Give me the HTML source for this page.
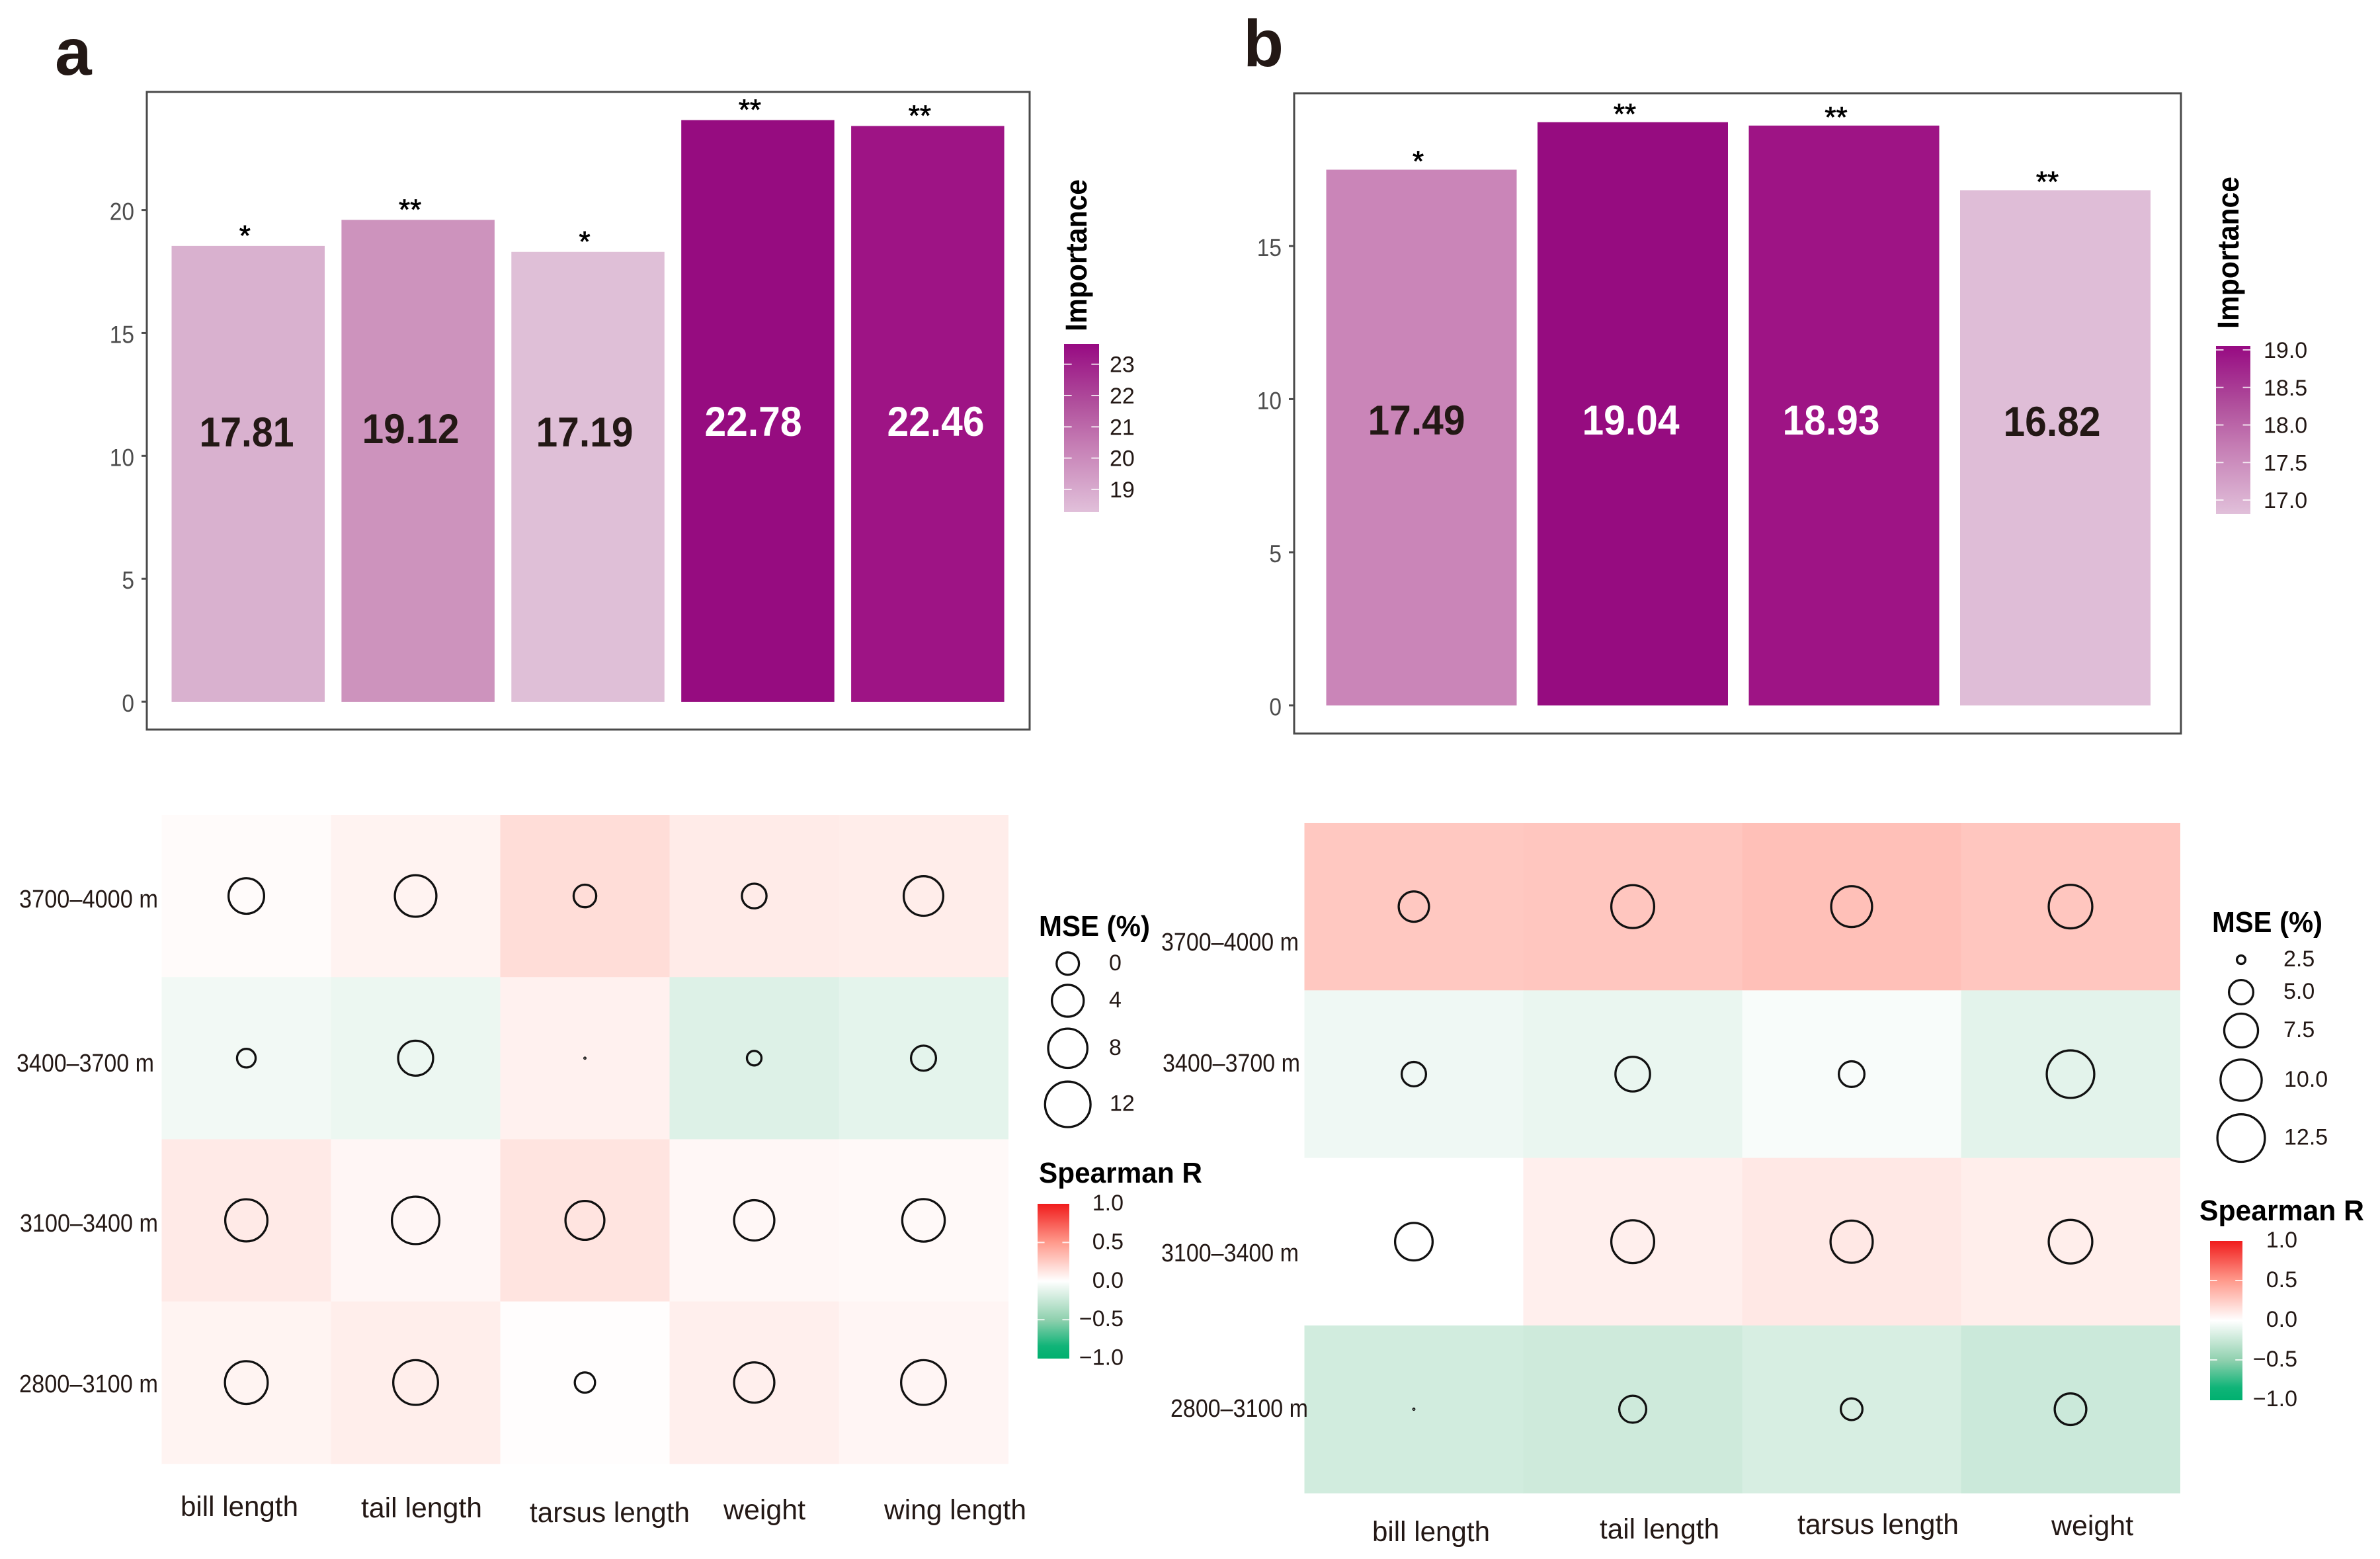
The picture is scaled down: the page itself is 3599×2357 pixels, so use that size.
<!DOCTYPE html>
<html lang="en">
<head>
<meta charset="utf-8">
<title>Importance and Spearman heatmaps by elevation</title>
<style>
html,body{margin:0;padding:0;background:#fff}
svg{display:block}
text{font-family:"Liberation Sans",Arial,sans-serif}
.ink{fill:#231815}
.b{font-weight:bold;fill:#000}
.val{font-weight:bold;font-size:63px;text-anchor:middle}
.row{font-size:38px}
.col{font-size:43px}
.leg{font-size:34px}
</style>
</head>
<body>
<svg id="chart" xmlns="http://www.w3.org/2000/svg" width="3599" height="2357" viewBox="0 0 3599 2357">
<defs>
<linearGradient id="impGrad" x1="0" y1="0" x2="0" y2="1">
<stop offset="0" stop-color="#970a82"/><stop offset=".35" stop-color="#b04f9c"/><stop offset=".6" stop-color="#c57db4"/><stop offset="1" stop-color="#e1c0da"/>
</linearGradient>
<linearGradient id="corGrad" x1="0" y1="0" x2="0" y2="1">
<stop offset="0" stop-color="#f01c1c"/><stop offset=".25" stop-color="#ff9a8c"/><stop offset=".5" stop-color="#ffffff"/><stop offset=".75" stop-color="#8fd0ae"/><stop offset=".92" stop-color="#10b478"/><stop offset="1" stop-color="#00b06f"/>
</linearGradient>
</defs>
<rect width="3599" height="2357" fill="#fff"/>
<g id="marks"></g>

<text class="ink" x="83" y="113" font-size="100" font-weight="bold">a</text>
<text class="ink" x="1880" y="100" font-size="100" font-weight="bold">b</text>

<g>
<text class="val ink" x="373" y="675" textLength="143" lengthAdjust="spacingAndGlyphs">17.81</text>
<text class="val ink" x="621" y="670" textLength="147" lengthAdjust="spacingAndGlyphs">19.12</text>
<text class="val ink" x="884" y="675" textLength="147" lengthAdjust="spacingAndGlyphs">17.19</text>
<text class="val" fill="#fff" x="1139" y="659" textLength="147" lengthAdjust="spacingAndGlyphs">22.78</text>
<text class="val" fill="#fff" x="1415" y="659" textLength="147" lengthAdjust="spacingAndGlyphs">22.46</text>
</g>
<g>
<text class="val ink" x="2142" y="657" textLength="147" lengthAdjust="spacingAndGlyphs">17.49</text>
<text class="val" fill="#fff" x="2466" y="657" textLength="147" lengthAdjust="spacingAndGlyphs">19.04</text>
<text class="val" fill="#fff" x="2769" y="657" textLength="147" lengthAdjust="spacingAndGlyphs">18.93</text>
<text class="val ink" x="3103" y="659" textLength="147" lengthAdjust="spacingAndGlyphs">16.82</text>
</g>

<text class="b" font-size="45" textLength="230" lengthAdjust="spacingAndGlyphs" transform="translate(1643,501) rotate(-90)">Importance</text>
<text class="b" font-size="45" textLength="230" lengthAdjust="spacingAndGlyphs" transform="translate(3385,497) rotate(-90)">Importance</text>

<g>
<text class="row ink" x="29" y="1372" textLength="210" lengthAdjust="spacingAndGlyphs">3700–4000 m</text>
<text class="row ink" x="25" y="1620" textLength="208" lengthAdjust="spacingAndGlyphs">3400–3700 m</text>
<text class="row ink" x="30" y="1862" textLength="209" lengthAdjust="spacingAndGlyphs">3100–3400 m</text>
<text class="row ink" x="29" y="2105" textLength="210" lengthAdjust="spacingAndGlyphs">2800–3100 m</text>
</g>
<g>
<text class="col ink" x="273" y="2292" textLength="178" lengthAdjust="spacingAndGlyphs">bill length</text>
<text class="col ink" x="546" y="2294" textLength="183" lengthAdjust="spacingAndGlyphs">tail length</text>
<text class="col ink" x="801" y="2301" textLength="242" lengthAdjust="spacingAndGlyphs">tarsus length</text>
<text class="col ink" x="1094" y="2297" textLength="124" lengthAdjust="spacingAndGlyphs">weight</text>
<text class="col ink" x="1337" y="2297" textLength="215" lengthAdjust="spacingAndGlyphs">wing length</text>
</g>
<g>
<text class="row ink" x="1756" y="1437" textLength="208" lengthAdjust="spacingAndGlyphs">3700–4000 m</text>
<text class="row ink" x="1758" y="1620" textLength="208" lengthAdjust="spacingAndGlyphs">3400–3700 m</text>
<text class="row ink" x="1756" y="1907" textLength="208" lengthAdjust="spacingAndGlyphs">3100–3400 m</text>
<text class="row ink" x="1770" y="2142" textLength="208" lengthAdjust="spacingAndGlyphs">2800–3100 m</text>
</g>
<g>
<text class="col ink" x="2075" y="2330" textLength="178" lengthAdjust="spacingAndGlyphs">bill length</text>
<text class="col ink" x="2419" y="2326" textLength="181" lengthAdjust="spacingAndGlyphs">tail length</text>
<text class="col ink" x="2718" y="2319" textLength="244" lengthAdjust="spacingAndGlyphs">tarsus length</text>
<text class="col ink" x="3102" y="2321" textLength="124" lengthAdjust="spacingAndGlyphs">weight</text>
</g>

<text class="b" x="1571" y="1415" font-size="44" textLength="168" lengthAdjust="spacingAndGlyphs">MSE (%)</text>
<text class="b" x="1571" y="1788" font-size="44" textLength="247" lengthAdjust="spacingAndGlyphs">Spearman R</text>
<text class="b" x="3345" y="1409" font-size="44" textLength="167" lengthAdjust="spacingAndGlyphs">MSE (%)</text>
<text class="b" x="3326" y="1845" font-size="44" textLength="249" lengthAdjust="spacingAndGlyphs">Spearman R</text>
</svg>

<script>
// Panel a bars
const barHeightsA = [18.54, 19.6, 18.3, 23.66, 23.42];
const importanceA = [17.81, 19.12, 17.19, 22.78, 22.46];
const starsA = ['*', '**', '*', '**', '**'];
const yTicksA = [0, 5, 10, 15, 20];
const impTicksA = [23, 22, 21, 20, 19];

// Panel b bars
const barHeightsB = [17.49, 19.04, 18.93, 16.82];
const importanceB = [17.49, 19.04, 18.93, 16.82];
const starsB = ['*', '**', '**', '**'];
const yTicksB = [0, 5, 10, 15];
const impTicksB = [19.0, 18.5, 18.0, 17.5, 17.0];

// Colour ramps: importance breakpoints and their colours
const impDomainA = [17.19, 19.12, 22.46, 22.78];
const impDomainB = [16.82, 17.49, 18.93, 19.04];
const impColorsA = [[223,191,215],[205,147,189],[158,20,133],[150,12,128]];
const impColorsB = [[223,189,215],[202,133,184],[158,20,133],[150,12,128]];

// Panel a heatmap (rows top to bottom: 3700-4000, 3400-3700, 3100-3400, 2800-3100)
const spearmanA1 = [0.02, 0.06, 0.17, 0.1, 0.09];
const spearmanA2 = [-0.06, -0.085, 0.07, -0.15, -0.12];
const spearmanA3 = [0.105, 0.045, 0.135, 0.04, 0.03];
const spearmanA4 = [0.055, 0.085, 0.008, 0.08, 0.05];
const mseA1 = [5.9, 9.4, 0.1, 0.85, 8.2];
const mseA2 = [-1.2, 5.6, -4.25, -2.3, 1.0];
const mseA3 = [9.8, 13.4, 7.8, 8.6, 10.0];
const mseA4 = [10.2, 11.5, -0.7, 8.6, 11.5];

// Panel b heatmap
const spearmanB1 = [0.27, 0.28, 0.31, 0.28];
const spearmanB2 = [-0.07, -0.095, -0.03, -0.125];
const spearmanB3 = [0, 0.08, 0.115, 0.085];
const spearmanB4 = [-0.205, -0.22, -0.18, -0.23];
const mseB1 = [6.49, 10.63, 9.89, 10.9];
const mseB2 = [5.0, 7.76, 5.3, 12.5];
const mseB3 = [8.72, 10.63, 10.38, 10.9];
const mseB4 = [2.04, 5.63, 4.43, 6.86];

// Legends
const corTicks = [1.0, 0.5, 0.0, -0.5, -1.0];
const corDomain = [-1, -0.5, 0, 0.5, 1];
const corColors = [[0,176,111],[143,208,174],[255,255,255],[255,154,140],[240,28,28]];

const NS = 'http://www.w3.org/2000/svg';
const root = document.getElementById('marks');

function mk(parent, tag, attrs) {
  const el = document.createElementNS(NS, tag);
  for (const k in attrs) el.setAttribute(k, attrs[k]);
  parent.appendChild(el);
  return el;
}
function lerpColor(v, domain, colors) {
  let i = 0;
  if (v <= domain[0]) i = 0;
  else if (v >= domain[domain.length - 1]) i = domain.length - 2;
  else while (v > domain[i + 1]) i++;
  const t = Math.max(0, Math.min(1, (v - domain[i]) / (domain[i + 1] - domain[i])));
  const c = colors[i].map((a, j) => Math.round(a + (colors[i + 1][j] - a) * t));
  return 'rgb(' + c.join(',') + ')';
}
function fmt1(v) {
  return v.toFixed(1).replace('-', '\u2212');
}

// ---- axis functions ----
const yA = v => 1061 - v * 37.17;
const yB = v => 1066.5 - v * 46.31;
const bandA = i => 259.5 + i * 256.9;
const bandB = i => 2005.5 + i * 319.5;
const impYA = v => 550.7 + (23 - v) * 47.3;
const impYB = v => 529 + (19 - v) * 113.5;
const corYA = v => 1936.8 - v * 116.75;
const corYB = v => 1996 - v * 120;
const cellXA = i => 244.5 + i * 256;
const cellYA = i => 1232 + i * 245.2;
const cellXB = i => 1972.5 + i * 331;
const cellYB = i => 1244 + i * 253.3;
const sizeA = v => Math.sqrt(Math.max(0, v + 4.3)) * 17.83;
const sizeB = v => Math.sqrt(Math.max(0, v - 2.02)) * 23.17;

function drawBarPanel(g, frame, heights, importance, stars, ticks, y, band, barW, domain, colors, starDy) {
  const box = mk(g, 'rect', {x: frame[0], y: frame[1], width: frame[2] - frame[0], height: frame[3] - frame[1], fill: 'none', stroke: '#4a4a4a', 'stroke-width': 3});
  
  
  ticks.forEach(t => {
    const tick = mk(g, 'line', {x1: frame[0] - 8, x2: frame[0], y1: y(t), y2: y(t), stroke: '#4d4d4d', 'stroke-width': 3});
    
    
    const lab = mk(g, 'text', {x: frame[0] - 19, y: y(t) + 15, 'text-anchor': 'end', 'font-size': 37, fill: '#4d4d4d', textLength: String(t).length * 18.6, lengthAdjust: 'spacingAndGlyphs'});
    lab.textContent = t;
    
    
  });
  heights.forEach((h, i) => {
    const bar = mk(g, 'rect', {x: band(i), y: y(h), width: barW, height: y(0) - y(h), fill: lerpColor(importance[i], domain, colors)});
    
    
    const star = mk(g, 'text', {x: band(i) + barW / 2 + (stars[i].length > 1 ? -12 : -5), y: y(h) + starDy, 'text-anchor': 'middle', 'font-size': 44, fill: '#000', stroke: '#000', 'stroke-width': 0.8});
    star.textContent = stars[i];
    
    
  });
}

function drawHeatmap(g, rowsCor, rowsMse, cellX, cellY, size) {
  rowsCor.forEach((row, r) => {
    row.forEach((v, c) => {
      const cell = mk(g, 'rect', {x: cellX(c), y: cellY(r), width: cellX(c + 1) - cellX(c) + 0.5, height: cellY(r + 1) - cellY(r) + 0.5, fill: lerpColor(v, corDomain, corColors)});
      
      
    });
  });
  rowsMse.forEach((row, r) => {
    row.forEach((v, c) => {
      const d = size(v);
      const dot = mk(g, 'circle', {cx: (cellX(c) + cellX(c + 1)) / 2, cy: (cellY(r) + cellY(r + 1)) / 2, r: Math.max(0.8, d / 2 - 1.6), fill: 'none', stroke: '#111', 'stroke-width': 3.3});
      
      
    });
  });
}

function drawBar(g, gradient, x, top, w, h, ticks, yFn, labelX, anchor, fmt, dy) {
  const cb = mk(g, 'rect', {x: x, y: top, width: w, height: h, fill: 'url(#' + gradient + ')'});
  
  
  ticks.forEach(t => {
    const y = yFn(t);
    const ends = Math.abs(y - top) < 4 || Math.abs(y - top - h) < 4;
    if (!ends) {
      const l = mk(g, 'line', {x1: x, x2: x + w * 0.22, y1: y, y2: y, stroke: '#fff', 'stroke-width': 2, opacity: .8});
      
      
      const r = mk(g, 'line', {x1: x + w * 0.78, x2: x + w, y1: y, y2: y, stroke: '#fff', 'stroke-width': 2, opacity: .8});
      
      
    }
    const lab = mk(g, 'text', {x: labelX, y: y + dy, 'text-anchor': anchor, 'class': 'leg ink'});
    lab.textContent = fmt(t);
    
    
  });
}

function legendKey(g, cx, cy, d, labelX, text) {
  const c = mk(g, 'circle', {cx: cx, cy: cy, r: Math.max(0.8, d / 2 - 1.6), fill: 'none', stroke: '#111', 'stroke-width': 3.3});
  
  
  const t = mk(g, 'text', {x: labelX, y: cy + 10, 'class': 'leg ink'});
  t.textContent = text;
  
  
}

const gA = mk(root, 'g', {});


const gB = mk(root, 'g', {});



drawBarPanel(gA, [222, 139, 1557, 1103], barHeightsA, importanceA, starsA, yTicksA, yA, bandA, 231.5, impDomainA, impColorsA, -1);
drawBarPanel(gB, [1957, 141, 3298, 1109], barHeightsB, importanceB, starsB, yTicksB, yB, bandB, 288, impDomainB, impColorsB, 2);

drawBar(gA, 'impGrad', 1609, 520, 53, 254, impTicksA, impYA, 1678, 'start', v => String(v), 12);
drawBar(gB, 'impGrad', 3351, 523, 52, 254, impTicksB, impYB, 3423, 'start', v => v.toFixed(1), 12);

drawHeatmap(gA, [spearmanA1, spearmanA2, spearmanA3, spearmanA4], [mseA1, mseA2, mseA3, mseA4], cellXA, cellYA, sizeA);
drawHeatmap(gB, [spearmanB1, spearmanB2, spearmanB3, spearmanB4], [mseB1, mseB2, mseB3, mseB4], cellXB, cellYB, sizeB);

drawBar(gA, 'corGrad', 1569, 1820, 48, 234, corTicks, corYA, 1699, 'end', fmt1, 10);
drawBar(gB, 'corGrad', 3342, 1876, 49, 241, corTicks, corYB, 3474, 'end', fmt1, 10);

legendKey(gA, 1614.7, 1456.8, sizeA(0), 1677, '0');
legendKey(gA, 1614.7, 1513, sizeA(4), 1677, '4');
legendKey(gA, 1614.7, 1584.8, sizeA(8), 1677, '8');
legendKey(gA, 1614.7, 1669.6, sizeA(12), 1678, '12');

legendKey(gB, 3389, 1451, sizeB(2.5), 3453, '2.5');
legendKey(gB, 3389, 1500, sizeB(5), 3453, '5.0');
legendKey(gB, 3389, 1558, sizeB(7.5), 3453, '7.5');
legendKey(gB, 3389, 1633, sizeB(10), 3454, '10.0');
legendKey(gB, 3389, 1720.6, sizeB(12.5), 3454, '12.5');
</script>
</body>
</html>
